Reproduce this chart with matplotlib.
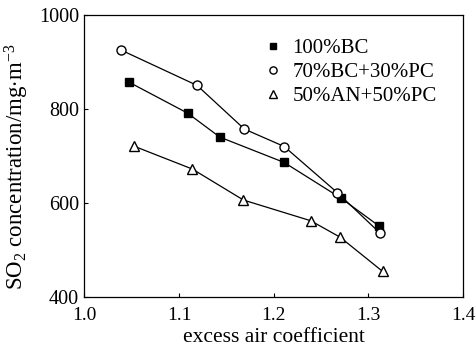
import matplotlib
matplotlib.use("Agg")
import matplotlib.pyplot as plt

plt.rcParams['font.family'] = ['Liberation Serif', 'DejaVu Serif']
plt.rcParams['mathtext.fontset'] = 'custom'
plt.rcParams['mathtext.rm'] = 'Liberation Serif'
plt.rcParams['mathtext.it'] = 'Liberation Serif:italic'

bc_x = [1.047, 1.109, 1.143, 1.211, 1.271, 1.311]
bc_y = [857, 791, 740, 686, 610, 551]
bcpc_x = [1.039, 1.119, 1.169, 1.211, 1.267, 1.312]
bcpc_y = [925, 850, 757, 720, 622, 536]
anpc_x = [1.052, 1.114, 1.168, 1.239, 1.270, 1.315]
anpc_y = [721, 672, 606, 562, 527, 454]
labels = ["100%BC", "70%BC+30%PC", "50%AN+50%PC"]
xticks = [1.0, 1.1, 1.2, 1.3, 1.4]
yticks = [400, 600, 800, 1000]

fig = plt.figure(figsize=(4.77, 3.48), dpi=100)
ax = fig.add_axes([0.177, 0.147, 0.794, 0.810])

lw = 0.9
ax.plot(bc_x, bc_y, '-s', color='black', mfc='black', mec='black', ms=6, lw=lw, label=labels[0])
ax.plot(bcpc_x, bcpc_y, '-o', color='black', mfc='white', mec='black', ms=6.5, mew=1.0, lw=lw, label=labels[1])
ax.plot(anpc_x, anpc_y, '-^', color='black', mfc='white', mec='black', ms=7.5, mew=1.0, lw=lw, label=labels[2])

ax.set_xlim(1.0, 1.4)
ax.set_ylim(400, 1000)
ax.set_xticks(xticks)
ax.set_xticklabels([f"{v:.1f}" for v in xticks])
ax.set_yticks(yticks)
ax.tick_params(direction='in', length=3, top=False, right=False)
ax.tick_params(axis='x', pad=7, labelsize=14)
ax.tick_params(axis='y', pad=4, labelsize=14.5)
for s in ax.spines.values():
    s.set_linewidth(0.9)

ax.set_xlabel("excess air coefficient", fontsize=15.5, labelpad=3)
ax.set_ylabel("SO$_2$ concentration/mg$\\cdot$m$^{-3}$", fontsize=16.5)
ax.yaxis.set_label_coords(-0.142, 0.46)

ax.legend(loc='upper left', bbox_to_anchor=(0.45, 0.945), frameon=False, fontsize=15,
          handlelength=0.9, handletextpad=0.5, labelspacing=0.2, borderaxespad=0,
          markerscale=0.8)
for h in ax.get_legend().get_lines():
    h.set_linestyle('None')

fig.savefig("out.png", dpi=100)
